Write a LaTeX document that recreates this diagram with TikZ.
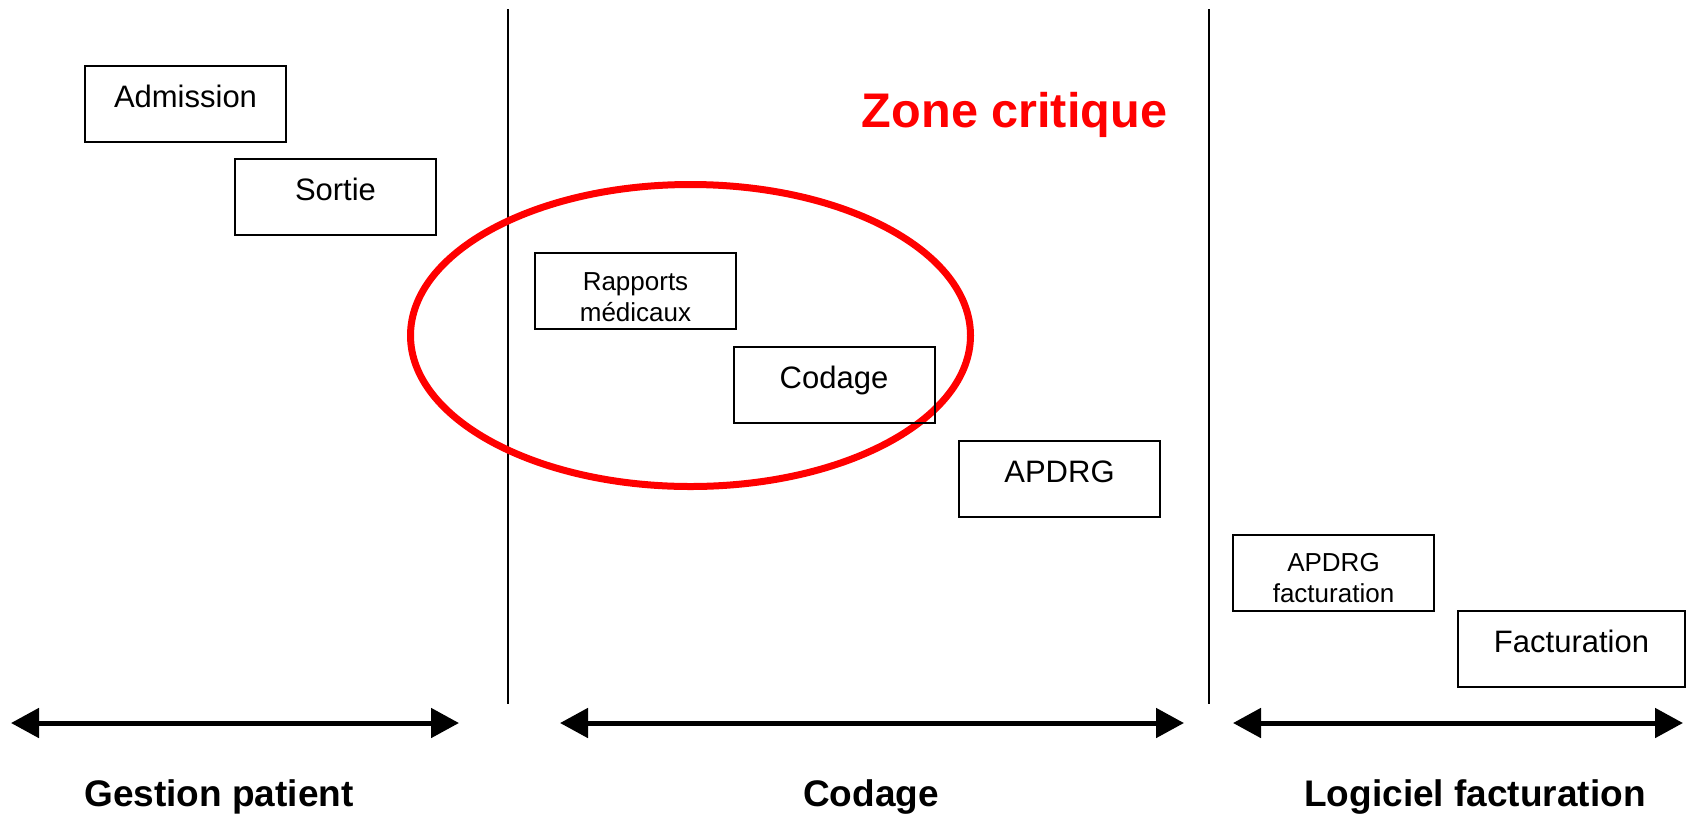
\documentclass[tikz,border=0pt]{standalone}
\usepackage{fontspec}
\setmainfont{Liberation Sans}
\usetikzlibrary{arrows.meta,shapes.geometric}
\definecolor{zonered}{RGB}{255,0,0}
\begin{document}
\begin{tikzpicture}[x=1pt,y=-1pt,
  box/.style={draw=black, line width=2pt, inner sep=0pt, minimum width=201pt, minimum height=76pt},
  txt/.style={font=\fontsize{31}{37}\selectfont, inner sep=0pt, anchor=base},
  small/.style={font=\fontsize{26}{31}\selectfont, inner sep=0pt, anchor=north, align=center},
  head/.style={font=\bfseries\fontsize{37}{44}\selectfont, inner sep=0pt, anchor=base},
  span/.style={line width=5pt, {Triangle[length=28pt,width=29pt]}-{Triangle[length=28pt,width=29pt]}},
  divider/.style={line width=2pt}]
\useasboundingbox (0,0) rectangle (1692,815);

% dividers
\coordinate (d1t) at (508,9);
\coordinate (d1b) at (508,704);
\coordinate (d2t) at (1209,9);
\coordinate (d2b) at (1209,704);
\draw[divider] (d1t) -- (d1b);
\draw[divider] (d2t) -- (d2b);

% critical zone
\node[draw=zonered, line width=7pt, ellipse, inner sep=0pt, minimum width=560pt, minimum height=302pt] (zone) at (690.5,335.5) {};
\node[font=\bfseries\fontsize{48.6}{58}\selectfont, text=zonered, inner sep=0pt, anchor=base] (zonelbl) at (1014.5,127) {Zone critique};

% boxes
\node[box] (adm) at (185.5,103.5) {};
\node[txt] (tadm) at ([yshift=-42.5pt]adm.north) {Admission};
\node[box] (sor) at (335.5,197) {};
\node[txt] (tsor) at ([yshift=-42.5pt]sor.north) {Sortie};
\node[box] (rap) at (635.5,291) {};
\node[small] (trap) at ([yshift=-20pt]rap.north) {Rapports\\médicaux};
\node[box] (cod) at (834,385) {};
\node[txt] (tcod) at ([yshift=-42.5pt]cod.north) {Codage};
\node[box] (apd) at (1059.5,479) {};
\node[txt] (tapd) at ([yshift=-42.5pt]apd.north) {APDRG};
\node[box] (apf) at (1333.5,573) {};
\node[small] (tapf) at ([yshift=-19.5pt]apf.north) {APDRG\\facturation};
\node[box, minimum width=227pt] (fac) at (1571.5,648.5) {};
\node[txt] (tfac) at ([yshift=-42.5pt]fac.north) {Facturation};

% spans
\coordinate (a1l) at (11,723);
\coordinate (a1r) at (459,723);
\coordinate (a2l) at (560,723);
\coordinate (a2r) at (1184,723);
\coordinate (a3l) at (1233,723);
\coordinate (a3r) at (1683,723);
\draw[span] (a1l) -- (a1r);
\draw[span] (a2l) -- (a2r);
\draw[span] (a3l) -- (a3r);

% section labels
\node[head] (lgp) at (219,806) {Gestion patient};
\node[head] (lcod) at (871,806) {Codage};
\node[head] (llf) at (1475,806) {Logiciel facturation};
\end{tikzpicture}
\end{document}
